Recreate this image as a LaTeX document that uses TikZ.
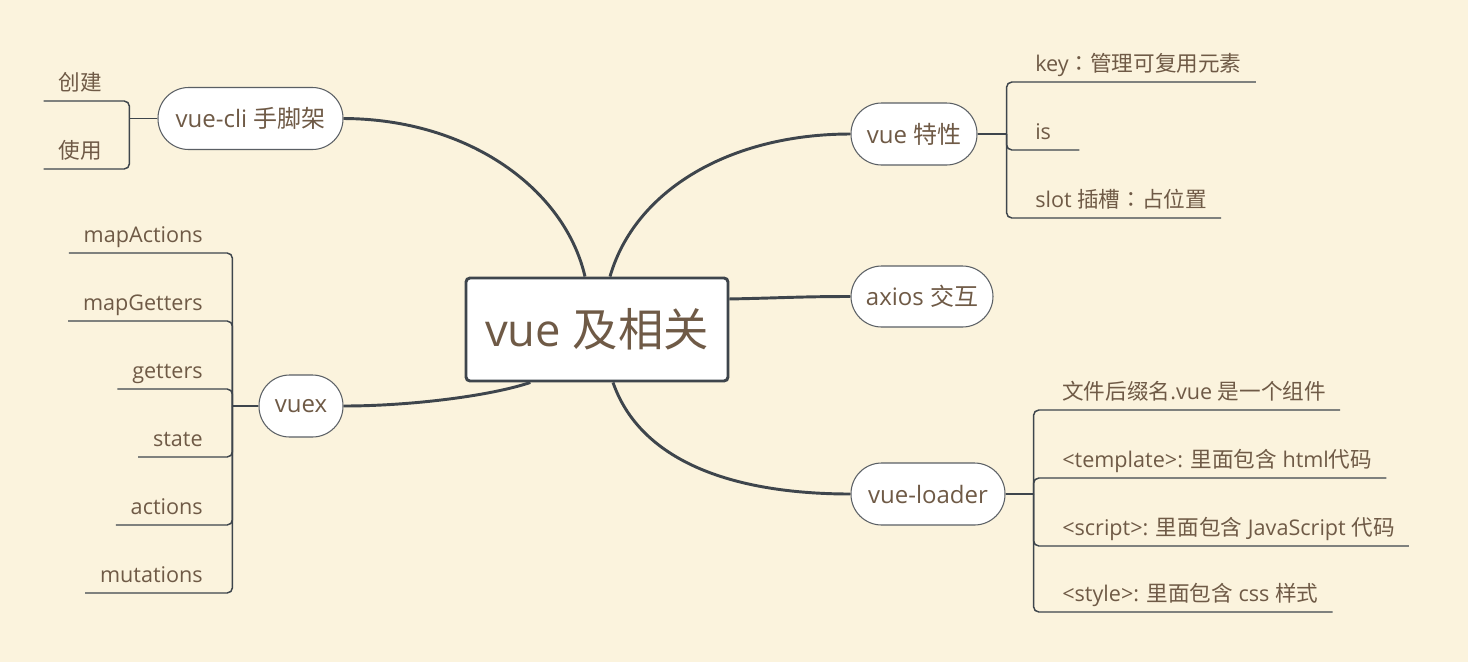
\documentclass[tikz,border=0pt]{standalone}
\usepackage{fontspec}
\setmainfont{Open Sans}
\newfontfamily\zh{Noto Sans CJK SC}
\newfontfamily\zht{Noto Sans CJK TC}
\definecolor{bg}{HTML}{FBF3DD}
\definecolor{txt}{HTML}{6F5A46}
\definecolor{ln}{HTML}{3E454C}
\definecolor{bd}{HTML}{5A5F64}
\begin{document}
\begin{tikzpicture}[x=0.75pt,y=-0.75pt,
  root/.style={draw=ln, line width=2.2pt, fill=white, rounded corners=3pt,
    minimum width=196.5pt, minimum height=77.25pt, inner sep=0pt, text=txt,
    font=\fontsize{34}{40}\selectfont},
  topic/.style={draw=bd, line width=0.8pt, fill=white, rounded corners=23pt,
    minimum height=46.5pt, inner sep=0pt, text=txt,
    font=\fontsize{18}{22}\selectfont},
  branch/.style={draw=ln, line width=2.2pt},
  brace/.style={draw=ln, line width=1.1pt, rounded corners=4pt},
  ritem/.style={anchor=south west, inner xsep=0pt, inner ysep=2.5pt,
    text depth=5pt, text=txt, font=\fontsize{16.2}{20}\selectfont},
  litem/.style={ritem, anchor=south east}]
\useasboundingbox (0,0) rectangle (1468,662);
\fill[bg] (0,0) rectangle (1468,662);

% central and main topics
\node[root] (c) at (597,329.5) {vue {\zh 及相关}};
\node[topic, minimum width=138.75pt] (cli) at (250.5,118.5) {vue-cli {\zh 手脚架}};
\node[topic, minimum width=63pt] (vx) at (301,406) {vuex};
\node[topic, minimum width=94.5pt] (tx) at (914,134) {vue {\zh 特性}};
\node[topic, minimum width=106.5pt, minimum height=45.75pt] (ax) at (922,296.5) {axios {\zh 交互}};
\node[topic, minimum width=115.5pt] (vl) at (928,494) {vue-loader};

% main connectors
\draw[branch] ([xshift=-9pt]c.north) .. controls (565,190) and (470,119) .. (cli.east);
\draw[branch] ([xshift=9.75pt]c.north) .. controls (635,190) and (730,134) .. (tx.west);
\draw[branch] ([yshift=22.9pt]c.east) .. controls (780,298) and (800,296.5) .. (ax.west);
\draw[branch] ([xshift=-50pt]c.south) .. controls (490,396) and (410,406) .. (vx.east);
\draw[branch] ([xshift=12pt]c.south) .. controls (640,460) and (730,494) .. (vl.west);

% vue-cli bracket
\coordinate (j1) at ([xshift=-21pt]cli.west);
\draw[brace] (cli.west) -- (j1);
\node[litem] (a1) at (130,101) {\hspace*{11pt}{\zh 创建}\hspace*{21pt}};
\node[litem] (a2) at (130,169) {\hspace*{11pt}{\zh 使用}\hspace*{21pt}};
\foreach \n in {a1,a2} \draw[brace] (j1) -- (j1 |- \n.south east) -- (\n.south west);

% vuex bracket
\coordinate (j2) at ([xshift=-19.5pt]vx.west);
\draw[brace] (vx.west) -- (j2);
\node[litem] (b1) at (233,253) {\hspace*{11pt}mapActions\hspace*{22.5pt}};
\node[litem] (b2) at (233,321) {\hspace*{11pt}mapGetters\hspace*{22.5pt}};
\node[litem] (b3) at (233,389) {\hspace*{11pt}getters\hspace*{22.5pt}};
\node[litem] (b4) at (233,457) {\hspace*{11pt}state\hspace*{22.5pt}};
\node[litem] (b5) at (233,525) {\hspace*{11pt}actions\hspace*{22.5pt}};
\node[litem] (b6) at (233,593) {\hspace*{11pt}mutations\hspace*{22.5pt}};
\foreach \n in {b1,b2,b3,b4,b5,b6} \draw[brace] (j2) -- (j2 |- \n.south east) -- (\n.south west);

% vue 特性 bracket
\coordinate (j3) at ([xshift=21.75pt]tx.east);
\draw[brace] (tx.east) -- (j3);
\node[ritem] (d1) at (1006,82) {\hspace*{21.75pt}key{\zht ：}{\zh 管理可复用元素}\hspace*{10.5pt}};
\node[ritem] (d2) at (1006,150) {\hspace*{21.75pt}is\hspace*{21pt}};
\node[ritem] (d3) at (1006,218) {\hspace*{21.75pt}slot {\zh 插槽}{\zht ：}{\zh 占位置}\hspace*{10.5pt}};
\foreach \n in {d1,d2,d3} \draw[brace] (j3) -- (j3 |- \n.south west) -- (\n.south east);

% vue-loader bracket
\coordinate (j4) at ([xshift=21pt]vl.east);
\draw[brace] (vl.east) -- (j4);
\node[ritem] (e1) at (1033,410) {\hspace*{21.75pt}{\zh 文件后缀名}.vue {\zh 是一个组件}\hspace*{10.5pt}};
\node[ritem] (e2) at (1033,478) {\hspace*{21.75pt}<template>: {\zh 里面包含} html{\zh 代码}\hspace*{10.5pt}};
\node[ritem] (e3) at (1033,546) {\hspace*{21.75pt}<script>: {\zh 里面包含} JavaScript {\zh 代码}\hspace*{10.5pt}};
\node[ritem] (e4) at (1033,612) {\hspace*{21.75pt}<style>: {\zh 里面包含} css {\zh 样式}\hspace*{10.5pt}};
\foreach \n in {e1,e2,e3,e4} \draw[brace] (j4) -- (j4 |- \n.south west) -- (\n.south east);
\end{tikzpicture}
\end{document}
